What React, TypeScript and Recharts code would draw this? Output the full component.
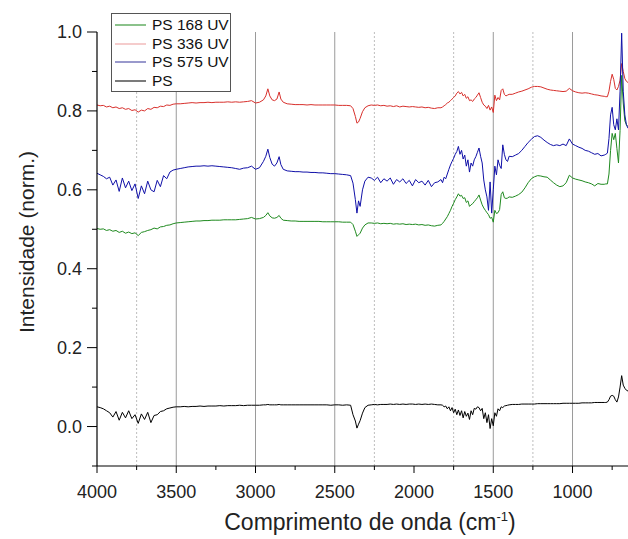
import { LineChart, Line, XAxis, YAxis, ReferenceLine, Legend, Label } from 'recharts';

const FONT = '"Liberation Sans", Arial, sans-serif';

// wavenumber grid (cm-1), denser where the spectra have sharp features
const WAVENUMBERS = [
  4000, 3980, 3960, 3940, 3920, 3900, 3880, 3860, 3840, 3820, 3800, 3780, 3760, 3740, 3720, 3700, 3680, 3660, 3640, 3620, 3600, 3580, 3560, 3540, 3520, 3500,
  3475, 3450, 3425, 3400, 3375, 3350, 3325, 3300, 3275, 3250, 3225, 3200, 3175, 3150, 3125, 3100, 3075, 3050,
  3025, 3000, 2975, 2950, 2935, 2922, 2910, 2895, 2880, 2865, 2851, 2840, 2825, 2800,
  2775, 2750, 2725, 2700, 2675, 2650, 2625, 2600, 2575, 2550, 2525, 2500, 2475, 2450, 2425, 2400,
  2385, 2370, 2360, 2350, 2340, 2325, 2310, 2290,
  2270, 2250, 2230, 2210, 2190, 2170, 2150, 2130, 2110, 2090, 2070, 2050, 2030, 2010, 1990, 1970, 1950, 1930, 1910, 1890, 1870, 1850,
  1830, 1820, 1810, 1800, 1790, 1780, 1770, 1760, 1750, 1740, 1730, 1720, 1710, 1700, 1690, 1680, 1670, 1660, 1650, 1640, 1630, 1620,
  1610, 1600, 1590, 1580, 1570, 1560, 1550, 1540, 1530, 1520, 1510, 1500, 1490, 1480, 1470, 1460, 1450, 1440, 1430, 1420, 1410, 1400,
  1380, 1360, 1340, 1320, 1300, 1280, 1260, 1240, 1220, 1200, 1180, 1160, 1140, 1120, 1100, 1080, 1060, 1040, 1020, 1000,
  980, 960, 940, 920, 900, 880, 860, 840, 820,
  800, 790, 780, 770, 760, 750, 740, 730, 720, 710, 700, 690, 680, 670, 660, 650,
];

const PS_168_UV = [
  0.502, 0.5, 0.501, 0.497, 0.499, 0.495, 0.497, 0.492, 0.495, 0.49, 0.493, 0.489, 0.491, 0.484, 0.492, 0.494, 0.497, 0.499, 0.503, 0.501, 0.506, 0.507, 0.51, 0.511, 0.514, 0.516,
  0.517, 0.518, 0.519, 0.52, 0.521, 0.521, 0.522, 0.522, 0.523, 0.523, 0.523, 0.524, 0.524, 0.524, 0.524, 0.525, 0.526, 0.527,
  0.53, 0.526, 0.527, 0.53, 0.535, 0.542, 0.534, 0.529, 0.528, 0.53, 0.535, 0.528, 0.523, 0.522,
  0.521, 0.521, 0.52, 0.52, 0.52, 0.52, 0.52, 0.52, 0.519, 0.519, 0.519, 0.519, 0.519, 0.518, 0.518, 0.518,
  0.512, 0.495, 0.482, 0.486, 0.49, 0.503, 0.511, 0.516,
  0.516, 0.515, 0.516, 0.514, 0.515, 0.514, 0.515, 0.513, 0.514, 0.513, 0.514, 0.512, 0.513, 0.512, 0.513, 0.511, 0.512, 0.51, 0.511, 0.509, 0.508, 0.51,
  0.511, 0.515, 0.52, 0.526, 0.532, 0.54, 0.548, 0.558, 0.566, 0.575, 0.582, 0.59, 0.584, 0.586, 0.578, 0.58, 0.568, 0.572, 0.558, 0.562, 0.565, 0.57,
  0.575, 0.58, 0.587, 0.574, 0.562, 0.554, 0.548, 0.542, 0.537, 0.528, 0.53, 0.518, 0.548, 0.54, 0.542, 0.55, 0.588, 0.595, 0.58, 0.578, 0.579, 0.582,
  0.581, 0.584, 0.588, 0.594, 0.605, 0.618, 0.628, 0.633, 0.636, 0.635, 0.633, 0.632, 0.625, 0.618, 0.612, 0.608, 0.61, 0.618, 0.637, 0.63,
  0.627, 0.625, 0.623, 0.62, 0.618, 0.615, 0.61, 0.616, 0.614,
  0.614, 0.615, 0.615, 0.64, 0.7, 0.743, 0.727, 0.743, 0.705, 0.668, 0.75, 0.89, 0.82, 0.775, 0.765, 0.76,
];

const PS_336_UV = [
  0.815, 0.813, 0.814, 0.81, 0.812, 0.808, 0.81, 0.806, 0.808, 0.804, 0.806, 0.801, 0.803, 0.797, 0.802, 0.8, 0.806, 0.804, 0.809, 0.808, 0.812, 0.811, 0.815, 0.814, 0.817, 0.818,
  0.818, 0.819, 0.82, 0.821, 0.82, 0.821, 0.821, 0.822, 0.821, 0.822, 0.822, 0.822, 0.823, 0.822, 0.823, 0.822, 0.823, 0.824,
  0.826, 0.82, 0.822, 0.828, 0.838, 0.856, 0.838, 0.828, 0.826, 0.83, 0.848, 0.83, 0.822, 0.818,
  0.817, 0.816, 0.816, 0.816, 0.815, 0.816, 0.815, 0.815, 0.815, 0.815, 0.815, 0.815, 0.814, 0.814, 0.814, 0.813,
  0.806, 0.786, 0.769, 0.772, 0.781, 0.798, 0.808, 0.813,
  0.815, 0.814, 0.815, 0.813, 0.814, 0.812, 0.813, 0.811, 0.813, 0.81, 0.812, 0.811, 0.81, 0.811, 0.81, 0.809, 0.81, 0.808, 0.809, 0.807, 0.806, 0.808,
  0.808, 0.81, 0.813, 0.816, 0.82, 0.822, 0.826, 0.83, 0.834, 0.838, 0.845, 0.849, 0.843, 0.847, 0.838, 0.842, 0.832, 0.836, 0.826, 0.828, 0.824, 0.83,
  0.834, 0.84, 0.846, 0.834, 0.822, 0.815, 0.812, 0.806, 0.814, 0.802, 0.81, 0.796, 0.84, 0.826, 0.834, 0.828, 0.852, 0.856, 0.842, 0.838, 0.84, 0.842,
  0.842, 0.845, 0.848, 0.85, 0.853, 0.856, 0.86, 0.862, 0.862, 0.861, 0.858, 0.855, 0.853, 0.852, 0.851, 0.85, 0.849, 0.85, 0.857, 0.851,
  0.848, 0.846, 0.845, 0.846, 0.845, 0.843, 0.841, 0.84, 0.838,
  0.837, 0.836, 0.836, 0.85, 0.875, 0.893, 0.88, 0.857, 0.853, 0.862, 0.878, 0.92, 0.9, 0.882, 0.875, 0.872,
];

const PS_575_UV = [
  0.642, 0.638, 0.634, 0.628, 0.632, 0.612, 0.625, 0.596, 0.63, 0.605, 0.622, 0.598, 0.615, 0.578, 0.61, 0.59, 0.622, 0.6, 0.595, 0.624, 0.608, 0.636, 0.628, 0.645, 0.65, 0.652,
  0.654, 0.656, 0.658, 0.659, 0.66, 0.66, 0.661, 0.66, 0.661, 0.66, 0.659, 0.658, 0.657, 0.656, 0.654, 0.652, 0.655, 0.656,
  0.66, 0.652, 0.656, 0.672, 0.685, 0.703, 0.682, 0.665, 0.66, 0.668, 0.684, 0.664, 0.652, 0.648,
  0.647, 0.646, 0.646, 0.645, 0.645, 0.644, 0.644, 0.643, 0.643, 0.642, 0.641, 0.641, 0.64, 0.639, 0.638, 0.636,
  0.617, 0.575, 0.541, 0.572, 0.558, 0.6, 0.622, 0.632,
  0.63, 0.624, 0.632, 0.618, 0.628, 0.622, 0.63, 0.614, 0.626, 0.62, 0.628, 0.616, 0.624, 0.61, 0.626, 0.618, 0.622, 0.612, 0.624, 0.608, 0.618, 0.62,
  0.626, 0.618, 0.632, 0.628, 0.64, 0.652, 0.663, 0.672, 0.68, 0.69, 0.697, 0.71, 0.69, 0.7, 0.678, 0.688, 0.66, 0.676, 0.645, 0.668, 0.66, 0.676,
  0.684, 0.695, 0.706, 0.685, 0.668, 0.625, 0.6, 0.582, 0.548, 0.62, 0.541, 0.6, 0.66, 0.638, 0.676, 0.662, 0.654, 0.714, 0.69, 0.676, 0.672, 0.685,
  0.684, 0.688, 0.692, 0.7, 0.71, 0.72, 0.728, 0.735, 0.737, 0.733, 0.726, 0.72, 0.715, 0.712, 0.714, 0.712, 0.716, 0.712, 0.729, 0.716,
  0.712, 0.708, 0.705, 0.7, 0.698, 0.694, 0.69, 0.692, 0.686,
  0.688, 0.69, 0.693, 0.73, 0.79, 0.809, 0.765, 0.752, 0.78, 0.752, 0.85, 0.997, 0.85, 0.79, 0.765, 0.756,
];

const PS = [
  0.05, 0.048, 0.045, 0.04, 0.035, 0.024, 0.038, 0.016, 0.036, 0.022, 0.04, 0.02, 0.03, 0.008, 0.032, 0.018, 0.036, 0.01, 0.028, 0.03, 0.038, 0.04, 0.045, 0.047, 0.049, 0.05,
  0.05, 0.051, 0.05, 0.051, 0.051, 0.052, 0.051, 0.052, 0.052, 0.052, 0.053, 0.052, 0.053, 0.053, 0.053, 0.054, 0.053, 0.054,
  0.054, 0.054, 0.054, 0.055, 0.055, 0.056, 0.055, 0.055, 0.055, 0.055, 0.056, 0.055, 0.055, 0.055,
  0.055, 0.055, 0.055, 0.055, 0.055, 0.055, 0.055, 0.055, 0.055, 0.055, 0.054, 0.055, 0.055, 0.054, 0.055, 0.054,
  0.03, 0.014, -0.004, 0.006, 0.015, 0.034, 0.048, 0.054,
  0.055, 0.056, 0.055, 0.056, 0.056, 0.056, 0.057, 0.056, 0.057, 0.056, 0.057, 0.056, 0.057, 0.057, 0.056, 0.057, 0.056, 0.057, 0.056, 0.057, 0.056, 0.055,
  0.055, 0.054, 0.05, 0.052, 0.045, 0.05, 0.04, 0.048, 0.035, 0.044, 0.03, 0.042, 0.028, 0.04, 0.022, 0.038, 0.026, 0.034, 0.018, 0.04, 0.03, 0.046,
  0.044, 0.05, 0.048, 0.04, 0.046, 0.02, 0.035, 0.01, 0.03, -0.005, 0.02, 0.002, 0.035, 0.026, 0.045, 0.04, 0.05, 0.048, 0.052, 0.053, 0.054, 0.055,
  0.056, 0.056, 0.056, 0.057, 0.057, 0.057, 0.057, 0.057, 0.058, 0.058, 0.058, 0.058, 0.058, 0.058, 0.058, 0.058, 0.059, 0.059, 0.059, 0.059,
  0.059, 0.059, 0.06, 0.06, 0.06, 0.06, 0.061, 0.061, 0.061,
  0.061, 0.061, 0.062, 0.068, 0.077, 0.079, 0.077, 0.068, 0.062, 0.075, 0.1, 0.129, 0.105, 0.097, 0.092, 0.09,
];

const X_LABELS = [4000, 3500, 3000, 2500, 2000, 1500, 1000];
const X_MINOR = [3750, 3250, 2750, 2250, 1750, 1250, 750];
const Y_LABELS = [0, 0.2, 0.4, 0.6, 0.8, 1.0];
const Y_MINOR = [-0.1, 0.1, 0.3, 0.5, 0.7, 0.9];
const GRID_SOLID = [3500, 3000, 2500, 1500, 1000];
const GRID_DOTTED = [3750, 2250, 1750, 1250];

// drawing order: green, red, blue, black (blue sits on top of green at ~690)
const SERIES = [
  { key: 'ps168', name: 'PS 168 UV', color: '#1f8a1f', legendColor: '#3f9a3f' },
  { key: 'ps336', name: 'PS 336 UV', color: '#d8302c', legendColor: '#eeaaaa' },
  { key: 'ps575', name: 'PS 575 UV', color: '#1010a8', legendColor: '#5555aa' },
  { key: 'ps', name: 'PS', color: '#000000', legendColor: '#222222' },
];

const rows = WAVENUMBERS.map((w, i) => ({
  w,
  ps168: PS_168_UV[i],
  ps336: PS_336_UV[i],
  ps575: PS_575_UV[i],
  ps: PS[i],
}));

const isIn = (list: number[], v: number) => list.some((m) => Math.abs(m - v) < 1e-6);

function YTick(props: any) {
  const { x, y, payload } = props;
  const major = isIn(Y_LABELS, payload.value);
  const len = major ? 10 : 5;
  return (
    <g>
      <line x1={x - len} x2={x} y1={y} y2={y} stroke="#000" strokeWidth={1} />
      {major && (
        <text x={x - 15} y={y} dy="0.36em" textAnchor="end" fontSize={18} fontFamily={FONT} fill="#222">
          {payload.value.toFixed(1)}
        </text>
      )}
    </g>
  );
}

function XTick(props: any) {
  const { x, y, payload } = props;
  const major = isIn(X_LABELS, payload.value);
  const len = major ? 7 : 4;
  return (
    <g>
      <line x1={x} x2={x} y1={y} y2={y + len} stroke="#000" strokeWidth={1} />
      {major && (
        <text x={x} y={y + 32} textAnchor="middle" fontSize={18} fontFamily={FONT} fill="#222">
          {payload.value}
        </text>
      )}
    </g>
  );
}

function LegendBox() {
  return (
    <div
      style={{
        width: 120,
        height: 79,
        boxSizing: 'border-box',
        border: '1px solid #555',
        background: '#fff',
        position: 'relative',
        fontFamily: FONT,
        fontSize: 15.5,
        color: '#111',
      }}
    >
      {SERIES.map((s, i) => (
        <div key={s.key} style={{ position: 'absolute', left: 0, top: 1 + i * 18.7, height: 20, display: 'flex', alignItems: 'center' }}>
          <svg width={38} height={20} style={{ display: 'block' }}>
            <line x1={3} x2={34} y1={10} y2={10} stroke={s.legendColor} strokeWidth={1.2} />
          </svg>
          <span style={{ marginLeft: 2, lineHeight: '20px', whiteSpace: 'nowrap' }}>{s.name}</span>
        </div>
      ))}
    </div>
  );
}

export default function App() {
  return (
    <div style={{ width: 628, height: 539, background: '#fff' }}>
      <style>{'body{margin:0;}'}</style>
      <LineChart width={628} height={539} data={rows} margin={{ top: 32, right: 0, left: 0, bottom: 0 }}>
        {GRID_SOLID.map((g) => (
          <ReferenceLine key={`s${g}`} x={g} stroke="#9a9a9a" strokeWidth={1} />
        ))}
        {GRID_DOTTED.map((g) => (
          <ReferenceLine key={`d${g}`} x={g} stroke="#bdbdbd" strokeWidth={1} strokeDasharray="2 2" />
        ))}
        <XAxis
          dataKey="w"
          type="number"
          domain={[650, 4000]}
          reversed
          allowDataOverflow
          ticks={[...X_LABELS, ...X_MINOR].sort((a, b) => b - a)}
          interval={0}
          tick={<XTick />}
          tickLine={false}
          tickSize={0}
          tickMargin={0}
          axisLine={{ stroke: '#000', strokeWidth: 1.2 }}
          height={73}
        >
          <Label
            content={() => (
              <text x={370} y={530} textAnchor="middle" fontSize={23} fontFamily={FONT} fill="#222">
                Comprimento de onda (cm
                <tspan dy={-9} fontSize={13}>-1</tspan>
                <tspan dy={9}>)</tspan>
              </text>
            )}
          />
        </XAxis>
        <YAxis
          type="number"
          domain={[-0.1, 1.0]}
          allowDataOverflow
          ticks={[...Y_MINOR, ...Y_LABELS].sort((a, b) => a - b)}
          interval={0}
          tick={<YTick />}
          tickLine={false}
          tickSize={0}
          tickMargin={0}
          axisLine={{ stroke: '#000', strokeWidth: 1.2 }}
          width={97}
        >
          <Label
            content={() => (
              <text
                x={34}
                y={242}
                transform="rotate(-90 34 242)"
                textAnchor="middle"
                fontSize={21}
                fontFamily={FONT}
                fill="#222"
              >
                Intensidade (norm.)
              </text>
            )}
          />
        </YAxis>
        <Legend
          layout="vertical"
          align="center"
          verticalAlign="middle"
          content={() => <LegendBox />}
          wrapperStyle={{ top: 13, left: 111, width: 120, height: 79 }}
        />
        {SERIES.map((s) => (
          <Line
            key={s.key}
            dataKey={s.key}
            name={s.name}
            type="linear"
            stroke={s.color}
            strokeWidth={1}
            dot={false}
            activeDot={false}
            isAnimationActive={false}
          />
        ))}
      </LineChart>
    </div>
  );
}
